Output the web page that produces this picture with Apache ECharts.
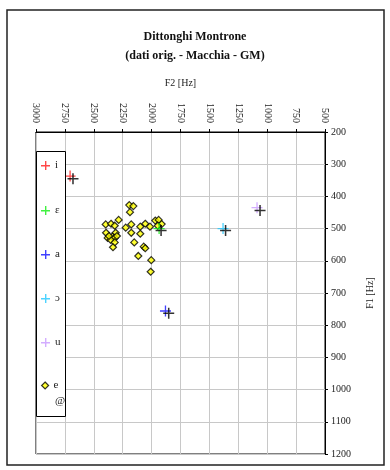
<!DOCTYPE html>
<html>
<head>
<meta charset="utf-8">
<script src="https://cdn.jsdelivr.net/npm/echarts@6/dist/echarts.min.js"></script>
<style>
  html, body { margin: 0; padding: 0; background: #fff; }
  #chart { width: 390px; height: 470px; }
</style>
</head>
<body>
<div id="chart"></div>
<script>
// Vowel formant means (F2, F1 in Hz)
const vowelNames = ['i', 'ε', 'a', 'ɔ', 'u'];
const vowelF2 = [2705, 1935, 1880, 1382, 1088];
const vowelF1 = [337, 500, 756, 500, 435];

// Reference values drawn as black crosses ("@")
const refF2 = [2680, 1918, 1852, 1360, 1062];
const refF1 = [345, 506, 763, 506, 444];

// Individual diphthong measurements ("e")
const eF2 = [2193, 2158, 2187, 2285, 2397, 2351, 2319, 2224, 2176, 2098, 2055, 2014,
             1968, 1939, 1913, 1947, 2394, 2311, 2176, 2098, 2380, 2340, 2319, 2354,
             2319, 2334, 2150, 2068, 2055, 2115, 2003, 2008, 2369, 2300];
const eF1 = [427, 430, 449, 473, 487, 485, 491, 497, 487, 494, 485, 494,
             475, 473, 486, 491, 513, 513, 513, 516, 529, 525, 529, 535,
             543, 558, 543, 556, 561, 585, 598, 634, 523, 523];

// Axis ticks
const f2Ticks = [500, 3000, 250];   // min, max, step
const f1Ticks = [200, 1200, 100];

const vowelColors = ['#ff1a1a', '#11ee11', '#1010ff', '#22c8ff', '#c899ff'];
const plus = 'path://M0,4.4H10V5.6H0Z M4.4,0H5.6V10H4.4Z';
const plusKey = 'path://M0,4H9V5.4H0Z M4,0H5.4V9H4Z';
const plusBold = 'path://M0,4.3H10V5.7H0Z M4.3,0H5.7V10H4.3Z';
const serif = 'Liberation Serif';

const series = [];
series.push({
  name: 'e',
  type: 'scatter',
  symbol: 'diamond',
  symbolSize: 7,
  itemStyle: { color: '#ffff00', borderColor: '#000', borderWidth: 1.2 },
  data: eF2.map((x, i) => [x, eF1[i]]),
  z: 2
});
vowelNames.forEach((n, i) => {
  series.push({
    name: n,
    type: 'scatter',
    symbol: plus,
    symbolSize: 11,
    itemStyle: { color: vowelColors[i] },
    data: [[vowelF2[i], vowelF1[i]]],
    z: 3
  });
});
series.push({
  name: '@',
  type: 'scatter',
  symbol: plusBold,
  symbolSize: 11,
  itemStyle: { color: '#000' },
  data: refF2.map((x, i) => [x, refF1[i]]),
  z: 4
});

// one legend block per entry so each sits at its own height in the key box
const legendRows = [
  { name: 'i', top: 166, icon: plusKey, color: vowelColors[0] },
  { name: 'ε', top: 211, icon: plusKey, color: vowelColors[1] },
  { name: 'a', top: 255, icon: plusKey, color: vowelColors[2] },
  { name: 'ɔ', top: 299, icon: plusKey, color: vowelColors[3] },
  { name: 'u', top: 343, icon: plusKey, color: vowelColors[4] },
  { name: 'e', top: 386, icon: 'diamond', color: '#ffff00' },
  { name: '@', top: 402, icon: 'none', color: '#000' }
];
const legends = legendRows.map(r => {
  const isDiamond = r.icon === 'diamond';
  return {
    orient: 'vertical',
    left: 41,
    top: r.top - 7,
    padding: 0,
    itemWidth: isDiamond ? 7 : 9,
    itemHeight: isDiamond ? 7 : 9,
    selectedMode: false,
    icon: r.icon,
    itemStyle: isDiamond
      ? { color: r.color, borderColor: '#000', borderWidth: 1.2 }
      : { color: r.color, borderWidth: 0 },
    inactiveColor: r.color,
    inactiveBorderColor: '#000',
    data: [r.name],
    textStyle: { fontFamily: serif, fontSize: 11, color: '#222', lineHeight: 13 },
    z: 6
  };
});

const plainNumber = v => String(v);

const chart = echarts.init(document.getElementById('chart'), null, { renderer: 'canvas' });
chart.setOption({
  animation: false,
  backgroundColor: '#fff',
  title: {
    text: 'Dittonghi Montrone\n(dati orig. - Macchia - GM)',
    left: 'center',
    top: 22,
    textStyle: { fontFamily: serif, fontSize: 12, fontWeight: 'bold', color: '#111', lineHeight: 19 }
  },
  grid: {
    left: 36, top: 132, width: 289, height: 322,
    containLabel: false,
    show: true, borderColor: '#000', borderWidth: 1
  },
  xAxis: {
    type: 'value',
    position: 'top',
    inverse: true,
    min: f2Ticks[0], max: f2Ticks[1], interval: f2Ticks[2],
    name: 'F2 [Hz]',
    nameLocation: 'middle',
    nameGap: 44,
    nameTextStyle: { fontFamily: serif, fontSize: 10, color: '#222' },
    axisLine: { show: true, lineStyle: { color: '#000', width: 1 } },
    axisTick: { show: true, length: 3, lineStyle: { color: '#000' } },
    axisLabel: { rotate: 90, margin: 9, fontFamily: serif, fontSize: 10, color: '#222', formatter: plainNumber },
    splitLine: { show: true, lineStyle: { color: '#c8c8c8', width: 1 } }
  },
  yAxis: {
    type: 'value',
    position: 'right',
    inverse: true,
    min: f1Ticks[0], max: f1Ticks[1], interval: f1Ticks[2],
    name: 'F1 [Hz]',
    nameLocation: 'middle',
    nameGap: 40,
    nameRotate: 90,
    nameTextStyle: { fontFamily: serif, fontSize: 10, color: '#222' },
    axisLine: { show: true, lineStyle: { color: '#000', width: 1 } },
    axisTick: { show: true, length: 3, lineStyle: { color: '#000' } },
    axisLabel: { margin: 6, fontFamily: serif, fontSize: 10, color: '#222', formatter: plainNumber },
    splitLine: { show: true, lineStyle: { color: '#c8c8c8', width: 1 } }
  },
  legend: legends,
  graphic: [
    {
      type: 'rect',
      z: 5,
      shape: { x: 36.5, y: 151.5, width: 29, height: 265 },
      style: { fill: '#fff', stroke: '#000', lineWidth: 1 }
    },
    {
      type: 'rect',
      z: 10,
      shape: { x: 7, y: 10, width: 377, height: 455 },
      style: { fill: 'none', stroke: '#222', lineWidth: 1.5 }
    }
  ],
  series: series
});
</script>
</body>
</html>
